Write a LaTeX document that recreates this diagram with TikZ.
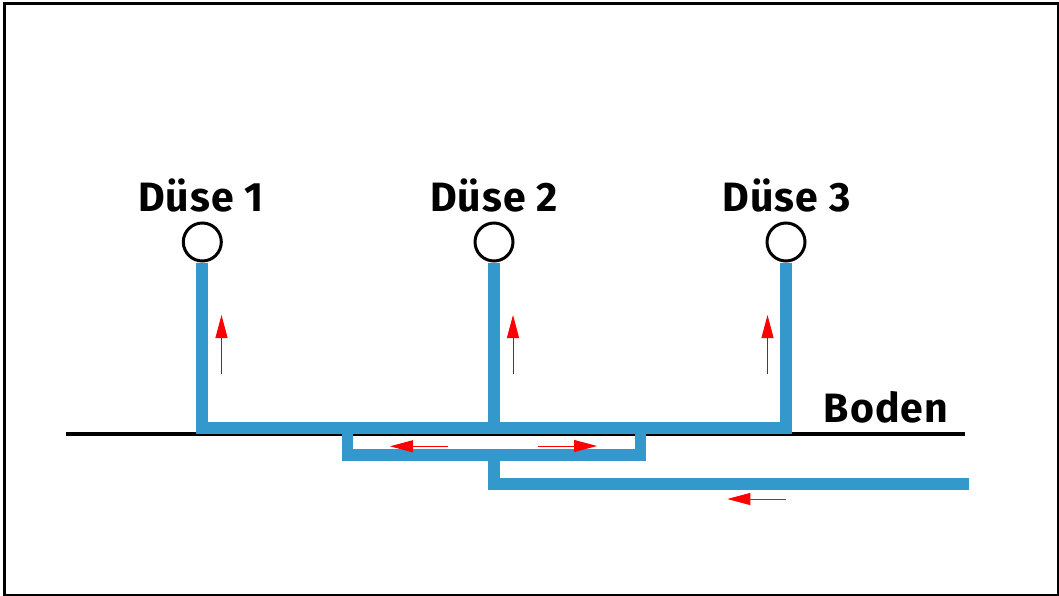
\documentclass[tikz,border=0pt]{standalone}
\usepackage{fontspec}
\setmainfont[LetterSpace=2.5]{Fira Sans}
\usetikzlibrary{arrows.meta}
\definecolor{pipeblue}{HTML}{3399CC}
\tikzset{
  pipe/.style={draw=pipeblue,line width=11.5pt,line cap=butt,line join=miter},
  ground/.style={draw=black,line width=3.2pt},
  nozzle/.style={circle,draw=black,fill=white,line width=3pt,minimum size=38pt,inner sep=0pt},
  lbl/.style={font=\fontsize{41}{41}\selectfont\bfseries,text=black,inner sep=0pt,anchor=base},
  upflow/.style={draw=black!75,line width=1pt,-{Triangle[length=23pt,width=12pt,color=red]}},
  sideflow/.style={draw=red,line width=1pt,-{Triangle[length=23pt,width=12pt,color=red]}}
}
\begin{document}
\begin{tikzpicture}[x=1pt,y=-1pt]
\useasboundingbox (0,0) rectangle (1059,596);
\fill[white] (0,0) rectangle (1059,596);
\draw[black,line width=2.8pt] (4.5,3.5) rectangle (1058,595.5);
% coordinates
\coordinate (g1) at (66,434); \coordinate (g2) at (965,434);
\coordinate (j1) at (201.8,428); \coordinate (j2) at (493.8,428); \coordinate (j3) at (785.8,428);
\coordinate (s1) at (347.5,428); \coordinate (s2) at (640.5,428);
\coordinate (b1) at (347.5,454.8); \coordinate (b2) at (640.5,454.8); \coordinate (b3) at (494,454.8);
\coordinate (f1) at (494,483.8); \coordinate (f2) at (969,483.8);
\draw[ground] (g1) -- (g2);
\node[nozzle] (n1) at (202.3,242) {};
\node[nozzle] (n2) at (494,242) {};
\node[nozzle] (n3) at (786,242) {};
\draw[pipe] (n1.south -| j1) -- (j1) -- (j3) -- (n3.south -| j3);
\draw[pipe] (n2.south -| j2) -- (j2);
\draw[pipe] (s1) -- (b1) -- (b2) -- (s2);
\draw[pipe] (b3) -- (f1);
\draw[pipe] ([xshift=-5.75pt]f1) -- (f2);
\node[lbl] (l1) at (201,211) {Düse 1};
\node[lbl] (l2) at (494,211) {Düse 2};
\node[lbl] (l3) at (786.5,211) {Düse 3};
\node[lbl] (l4) at (886,422) {Boden};
% flow arrows
\coordinate (a1s) at (221.5,374); \coordinate (a1e) at (221.5,315);
\coordinate (a2s) at (513,374); \coordinate (a2e) at (513,315);
\coordinate (a3s) at (767.5,374); \coordinate (a3e) at (767.5,315);
\draw[upflow] (a1s) -- (a1e);
\draw[upflow] (a2s) -- (a2e);
\draw[upflow] (a3s) -- (a3e);
\coordinate (a4s) at (448,446.3); \coordinate (a4e) at (390,446.3);
\coordinate (a5s) at (538,446); \coordinate (a5e) at (597,446);
\coordinate (a6s) at (786,499); \coordinate (a6e) at (727.3,499);
\draw[sideflow] (a4s) -- (a4e);
\draw[sideflow] (a5s) -- (a5e);
\draw[sideflow] (a6s) -- (a6e);
\end{tikzpicture}
\end{document}
